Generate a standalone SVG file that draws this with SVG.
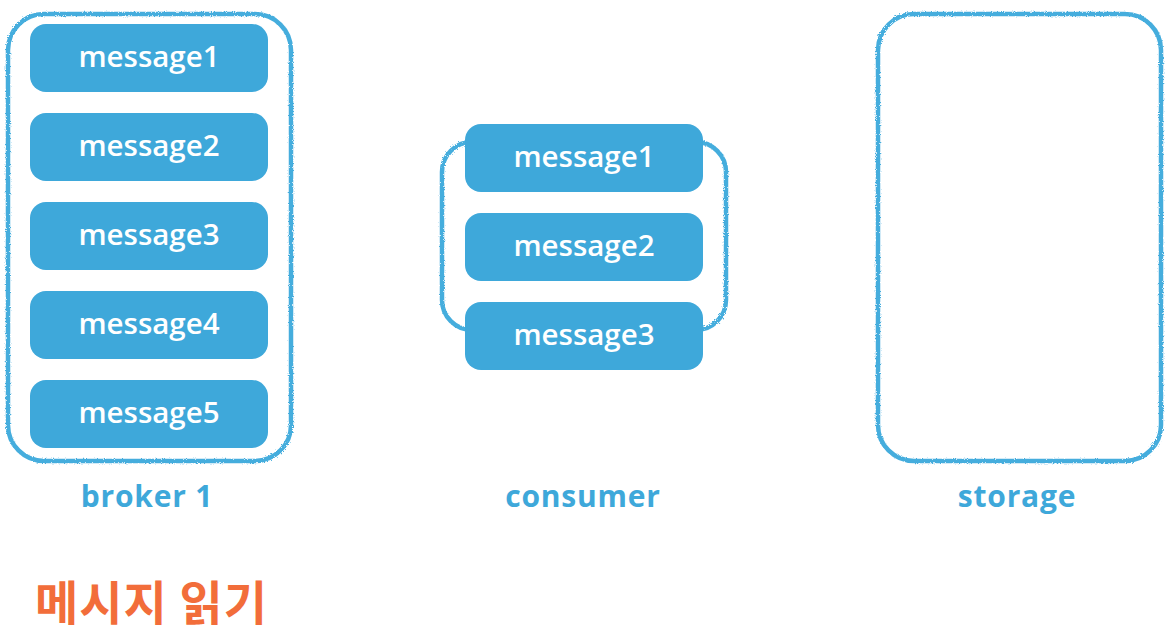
<svg xmlns="http://www.w3.org/2000/svg" width="1172" height="634" viewBox="0 0 1172 634">
  <style>
    .frame { fill: none; stroke: #45ADDD; stroke-width: 4.5; filter: url(#rough); }
    .msg { fill: #3EA8DA; }
    .msgt { fill: #FFFFFF; font-family: "Open Sans", "Noto Sans", sans-serif; font-weight: 600; font-size: 29.5px; text-anchor: middle; }
    .lbl { fill: #3EA8DA; font-family: "Open Sans", "Noto Sans", sans-serif; font-weight: 700; font-size: 30px; letter-spacing: 0.8px; text-anchor: middle; }
    .title { fill: #F26D3A; font-family: "Noto Sans CJK KR", "Noto Sans", sans-serif; font-weight: 700; font-size: 47px; letter-spacing: 1px; }
  </style>
  <defs>
    <filter id="rough" x="-5%" y="-5%" width="110%" height="110%">
      <feTurbulence type="fractalNoise" baseFrequency="0.9" numOctaves="2" seed="3" result="n"/>
      <feDisplacementMap in="SourceGraphic" in2="n" scale="3"/>
    </filter>
  </defs>
  <rect width="1172" height="634" fill="#FFFFFF"/>

  <g id="broker">
    <rect class="frame" x="8" y="14" width="283" height="447" rx="36"/>
    <g id="b-msg1"><rect class="msg" x="30" y="24" width="238" height="68" rx="16"/><text class="msgt" x="149" y="67">message1</text></g>
    <g id="b-msg2"><rect class="msg" x="30" y="113" width="238" height="68" rx="16"/><text class="msgt" x="149" y="156">message2</text></g>
    <g id="b-msg3"><rect class="msg" x="30" y="202" width="238" height="68" rx="16"/><text class="msgt" x="149" y="245">message3</text></g>
    <g id="b-msg4"><rect class="msg" x="30" y="291" width="238" height="68" rx="16"/><text class="msgt" x="149" y="334">message4</text></g>
    <g id="b-msg5"><rect class="msg" x="30" y="380" width="238" height="68" rx="16"/><text class="msgt" x="149" y="423">message5</text></g>
    <text class="lbl" x="147" y="507">broker 1</text>
  </g>

  <g id="consumer">
    <rect class="frame" x="442" y="142" width="284" height="188" rx="30"/>
    <g id="c-msg1"><rect class="msg" x="465" y="124" width="238" height="68" rx="16"/><text class="msgt" x="584" y="167">message1</text></g>
    <g id="c-msg2"><rect class="msg" x="465" y="213" width="238" height="68" rx="16"/><text class="msgt" x="584" y="256">message2</text></g>
    <g id="c-msg3"><rect class="msg" x="465" y="302" width="238" height="68" rx="16"/><text class="msgt" x="584" y="345">message3</text></g>
    <text class="lbl" x="583" y="507">consumer</text>
  </g>

  <g id="storage">
    <rect class="frame" x="878" y="14" width="283" height="447" rx="36"/>
    <text class="lbl" x="1017" y="507">storage</text>
  </g>

  <g id="connectors"></g>

  <text class="title" x="35" y="620">메시지 읽기</text>
</svg>
